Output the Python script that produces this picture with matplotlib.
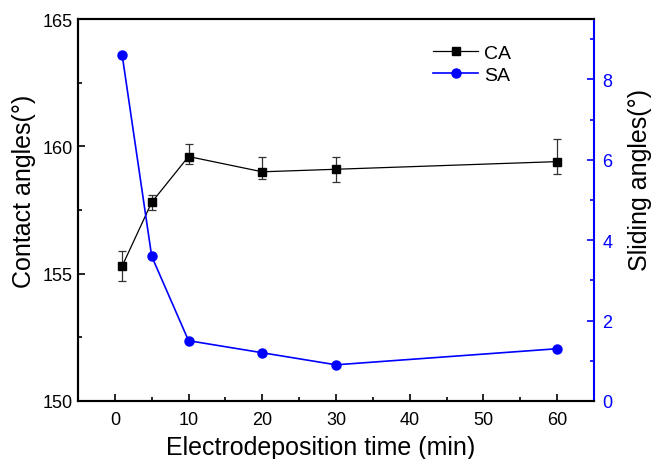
import matplotlib
matplotlib.use("Agg")
import matplotlib.pyplot as plt
from matplotlib.ticker import MultipleLocator

plt.rcParams['font.family'] = ['Liberation Sans', 'DejaVu Sans']

time_min = [1, 5, 10, 20, 30, 60]
ca = [155.3, 157.8, 159.6, 159.0, 159.1, 159.4]
ca_err_low = [0.6, 0.3, 0.3, 0.3, 0.5, 0.5]
ca_err_high = [0.6, 0.3, 0.5, 0.6, 0.5, 0.9]
sa = [8.6, 3.6, 1.5, 1.2, 0.9, 1.3]

fig = plt.figure(figsize=(6.53, 4.6), dpi=100)
ax = fig.add_axes([0.1194, 0.1261, 0.7902, 0.8304])
ax2 = ax.twinx()

blue = '#0000ff'

l1 = ax.errorbar(time_min, ca, yerr=[ca_err_low, ca_err_high], color='black', lw=0.9,
                 marker='s', markersize=6, ecolor='#333333', elinewidth=0.9,
                 capsize=3, capthick=0.9, label='CA')
l2, = ax2.plot(time_min, sa, color=blue, lw=1.2, marker='o', markersize=6.5, label='SA')

ax.set_xlim(-5, 65)
ax.set_ylim(150, 165)
ax2.set_ylim(0, 9.5)

ax.xaxis.set_major_locator(MultipleLocator(10))
ax.xaxis.set_minor_locator(MultipleLocator(5))
ax.yaxis.set_major_locator(MultipleLocator(5))
ax.yaxis.set_minor_locator(MultipleLocator(2.5))
ax2.yaxis.set_major_locator(MultipleLocator(2))
ax2.yaxis.set_minor_locator(MultipleLocator(1))

ax.tick_params(axis='both', which='major', direction='in', length=5, width=1.2, labelsize=13)
ax.tick_params(axis='both', which='minor', direction='in', length=3, width=1.2)
ax.tick_params(axis='x', top=False, which='both')
ax.tick_params(axis='y', right=False, which='both')
ax.tick_params(axis='x', pad=7)
ax2.tick_params(axis='y', which='major', direction='in', length=5, width=1.2, labelsize=13,
                colors=blue, pad=6)
ax2.tick_params(axis='y', which='minor', direction='in', length=3, width=1.2, colors=blue)

for s in ['left', 'bottom', 'top']:
    ax.spines[s].set_linewidth(1.5)
    ax2.spines[s].set_linewidth(1.5)
ax2.spines['right'].set_color(blue)
ax2.spines['right'].set_linewidth(1.5)
ax.spines['right'].set_visible(False)
ax2.spines['left'].set_color('black')

ax.set_xlabel('Electrodeposition time (min)', fontsize=18)
ax.set_ylabel('Contact angles(°)', fontsize=18)
ax2.set_ylabel('Sliding angles(°)', fontsize=18)
ax.xaxis.set_label_coords(0.471, -0.088)
ax.yaxis.set_label_coords(-0.081, 0.552)
ax2.yaxis.set_label_coords(1.066, 0.581)

leg = ax.legend([l1[0], l2], ['CA', 'SA'], loc='upper left', bbox_to_anchor=(0.655, 0.98),
                frameon=False, fontsize=14, handlelength=2.3, handletextpad=0.3,
                labelspacing=0.25)

fig.savefig('out.png', dpi=100)
